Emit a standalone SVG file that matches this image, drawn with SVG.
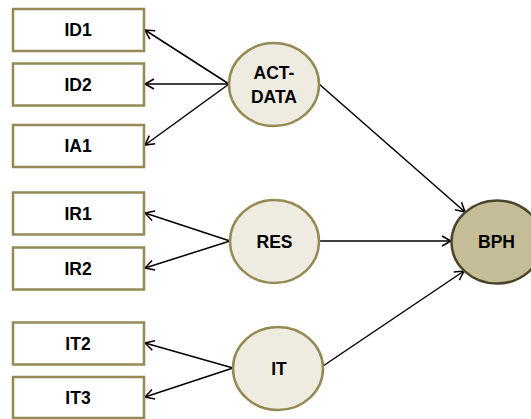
<svg xmlns="http://www.w3.org/2000/svg" width="531" height="419" viewBox="0 0 531 419">
<style>
.box{fill:#ffffff;stroke:#948A54;stroke-width:2.5}
.ell{fill:#EEECE1;stroke:#948A54;stroke-width:2.5}
.dark{fill:#C4BD97;stroke:#4A452A;stroke-width:2.5}
.lbl{font-family:"Liberation Sans",Arial,sans-serif;font-weight:bold;font-size:17.5px;fill:#000000;text-anchor:middle}
.conn{stroke:#000000;stroke-width:1.5;fill:none;marker-end:url(#arr)}
</style>
<defs>
<marker id="arr" viewBox="0 0 12 12" refX="11" refY="6" markerWidth="12" markerHeight="12" markerUnits="userSpaceOnUse" orient="auto" overflow="visible">
<path d="M2,1 L11,6 L2,11" fill="none" stroke="#000000" stroke-width="1.5"/>
</marker>
</defs>
<rect width="531" height="419" fill="#ffffff"/>
<g id="connectors">
<line class="conn" x1="229" y1="84" x2="145" y2="30"/>
<line class="conn" x1="229" y1="84" x2="145" y2="84"/>
<line class="conn" x1="229" y1="84" x2="145" y2="145"/>
<line class="conn" x1="319" y1="84" x2="465" y2="212"/>
<line class="conn" x1="230" y1="241" x2="145" y2="213"/>
<line class="conn" x1="230" y1="241" x2="145" y2="268"/>
<line class="conn" x1="319" y1="241" x2="451" y2="241"/>
<line class="conn" x1="233" y1="368" x2="145" y2="343"/>
<line class="conn" x1="233" y1="368" x2="145" y2="397"/>
<line class="conn" x1="323" y1="366" x2="464" y2="271"/>
</g>
<g id="ID1"><rect class="box" x="13" y="9" width="131" height="42"/><text class="lbl" x="78" y="36">ID1</text></g>
<g id="ID2"><rect class="box" x="13" y="63.5" width="131" height="42"/><text class="lbl" x="78" y="90.5">ID2</text></g>
<g id="IA1"><rect class="box" x="13" y="125" width="131" height="42"/><text class="lbl" x="78" y="152">IA1</text></g>
<g id="IR1"><rect class="box" x="13" y="192.5" width="131" height="42"/><text class="lbl" x="78" y="219.5">IR1</text></g>
<g id="IR2"><rect class="box" x="13" y="247.5" width="131" height="42"/><text class="lbl" x="78" y="274.5">IR2</text></g>
<g id="IT2"><rect class="box" x="13" y="322.5" width="131" height="42"/><text class="lbl" x="78" y="349.5">IT2</text></g>
<g id="IT3"><rect class="box" x="13" y="377" width="131" height="41"/><text class="lbl" x="78" y="403.5">IT3</text></g>
<g id="ACT-DATA"><ellipse class="ell" cx="274" cy="84.5" rx="45" ry="41.5"/><text class="lbl" x="274" y="79">ACT-</text><text class="lbl" x="274" y="103">DATA</text></g>
<g id="RES"><ellipse class="ell" cx="274.5" cy="241.5" rx="44.5" ry="41.5"/><text class="lbl" x="274.5" y="247.5">RES</text></g>
<g id="IT"><ellipse class="ell" cx="278" cy="368.5" rx="45" ry="41.5"/><text class="lbl" x="279" y="374.5">IT</text></g>
<g id="BPH"><ellipse class="dark" cx="497" cy="242" rx="45.5" ry="41.5"/><text class="lbl" x="496.5" y="248">BPH</text></g>
</svg>
